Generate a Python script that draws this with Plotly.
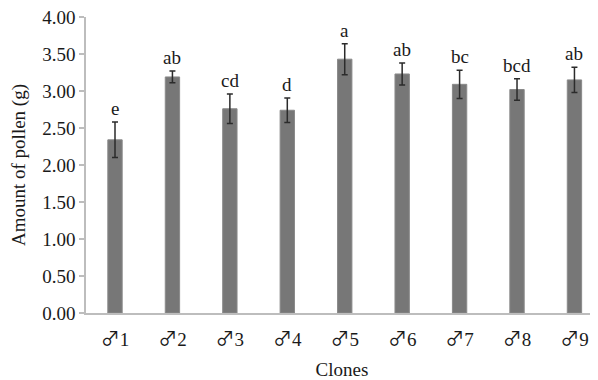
import plotly.graph_objects as go

clones = ["♂1", "♂2", "♂3", "♂4", "♂5", "♂6", "♂7", "♂8", "♂9"]
pollen = [2.34, 3.19, 2.76, 2.74, 3.43, 3.23, 3.09, 3.02, 3.15]
errors = [0.24, 0.08, 0.20, 0.165, 0.21, 0.15, 0.19, 0.145, 0.17]
letters = ["e", "ab", "cd", "d", "a", "ab", "bc", "bcd", "ab"]
y_ticks = [0, 0.5, 1, 1.5, 2, 2.5, 3, 3.5, 4]
y_tick_labels = ["0.00", "0.50", "1.00", "1.50", "2.00", "2.50", "3.00", "3.50", "4.00"]

FONT = "Liberation Serif, Times New Roman, serif"
x_tick_text = ["<span style='font-family:Noto Sans CJK SC'>" + c[0] + "</span>" + c[1:] for c in clones]

fig = go.Figure()
fig.add_trace(go.Bar(
    x=clones, y=pollen, width=0.25,
    marker=dict(color="#777777", line=dict(color="#8a8a8a", width=1)),
    error_y=dict(type="data", array=errors, visible=True,
                 color="#2b2b2b", thickness=1.5, width=3),
    showlegend=False,
))

for c, v, e, t in zip(clones, pollen, errors, letters):
    fig.add_annotation(x=c, y=v + e, text=t, showarrow=False,
                       yanchor="bottom", yshift=1,
                       font=dict(family=FONT, size=19, color="#1a1a1a"))

fig.update_layout(
    width=598, height=380,
    margin=dict(l=78, r=8, t=9, b=75),
    plot_bgcolor="white", paper_bgcolor="white",
    font=dict(family=FONT, size=19, color="#1a1a1a"),
    xaxis=dict(
        range=[-0.505, 8.41], automargin=False,
        tickvals=clones, ticktext=x_tick_text,
        showline=True, linecolor="#bdbdbd", linewidth=1.5,
        ticks="", showgrid=False, zeroline=False, ticklabelstandoff=8,
        ticklabeloverflow="allow",
        tickfont=dict(family=FONT, size=19),
        title=dict(text="Clones", font=dict(family=FONT, size=19), standoff=13),
    ),
    yaxis=dict(
        range=[0, 4], tickvals=y_ticks, ticktext=y_tick_labels, automargin=False,
        showline=True, linecolor="#bdbdbd", linewidth=1.5,
        ticks="outside", ticklen=5, tickcolor="#bdbdbd", tickwidth=1.5,
        showgrid=False, zeroline=False, ticklabeloverflow="allow",
        tickfont=dict(family=FONT, size=19),
        title=dict(text="Amount of pollen (g)", font=dict(family=FONT, size=19), standoff=15),
    ),
)

fig.write_html("out.html")
